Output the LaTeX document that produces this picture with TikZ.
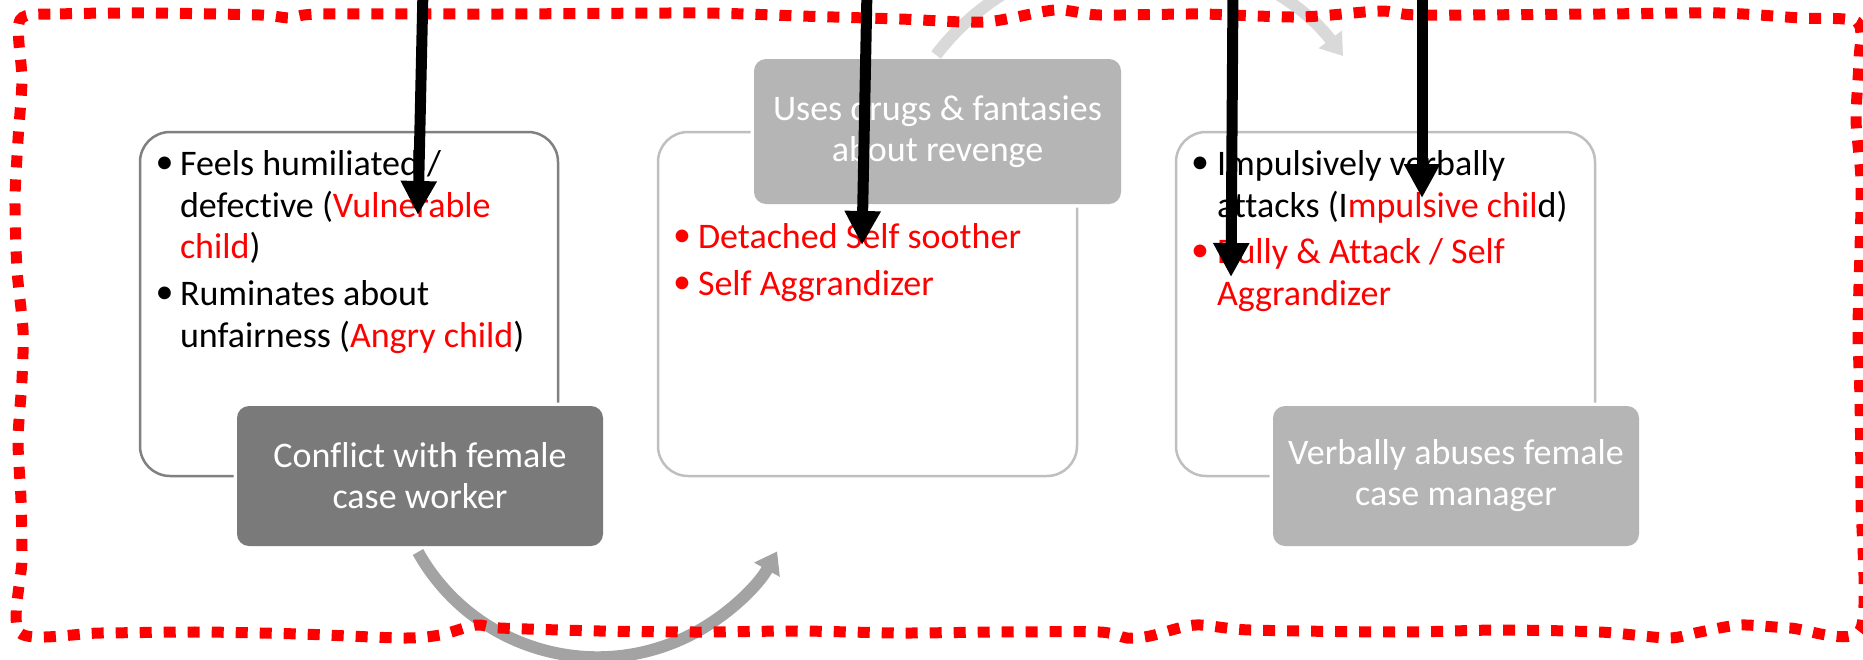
\documentclass[tikz,border=0pt]{standalone}
\usepackage{fontspec}
\setmainfont{Carlito}[Ligatures=NoCommon]
\usetikzlibrary{arrows.meta}

\definecolor{hired}{RGB}{255,0,0}
\definecolor{darkframe}{RGB}{128,128,128}
\definecolor{lightframe}{RGB}{191,191,191}
\definecolor{darktag}{RGB}{122,122,122}
\definecolor{lighttag}{RGB}{181,181,181}
\definecolor{arcdark}{RGB}{163,163,163}
\definecolor{arclight}{RGB}{217,217,217}

\newcommand\redtxt[1]{\textcolor{hired}{#1}}

\begin{document}
\begin{tikzpicture}[x=1pt,y=-1pt,
  panel/.style={draw=#1, line width=2.5pt, fill=white, rounded corners=30pt,
    inner sep=0pt, outer sep=0pt},
  tag/.style={fill=#1, rounded corners=12pt, preaction={draw=white, line width=7pt},
    text=white, align=center, inner sep=0pt, outer sep=0pt,
    font=\fontsize{36}{41}\selectfont},
  txtline/.style={anchor=base west, inner sep=0pt, outer sep=0pt,
    font=\fontsize{36}{42}\selectfont},
  bulletmark/.style={anchor=center, inner sep=0pt, outer sep=0pt,
    font=\fontsize{36}{42}\selectfont},
  cyclearrow/.style={line width=12pt, draw=#1, -{Triangle[width=28pt,length=21pt]}},
  pointer/.style={line width=11pt, draw=black, -{Triangle[width=34pt,length=34pt]}},
  redframe/.style={draw=hired, line width=11pt, dash pattern=on 12pt off 12pt}
]
\useasboundingbox (0,0) rectangle (1863,659);

% three stage panels
\node[panel=darkframe, minimum width=418pt, minimum height=344pt] (p1) at (349,304) {};
\node[panel=lightframe, minimum width=419pt, minimum height=344pt] (p2) at (867.5,304) {};
\node[panel=lightframe, minimum width=419pt, minimum height=344pt] (p3) at (1385.5,304) {};

% stage titles
\node[tag=darktag, minimum width=366pt, minimum height=140pt] (t1) at (420,476)
  {Conflict with female\\case worker};
\node[tag=lighttag, minimum width=367pt, minimum height=145pt] (t2) at (937.5,131.5)
  {Uses drugs \& fantasies\\about revenge};
\node[tag=lighttag, minimum width=366pt, minimum height=140pt] (t3) at (1456,476)
  {Verbally abuses female\\case manager};

% panel 1 bullets
\node[bulletmark] (p1b1) at (164.5,165) {•};
\node[txtline] (p1l1) at (180,175) {Feels humiliated /};
\node[txtline] (p1l2) at (180,217) {defective (\redtxt{Vulnerable}};
\node[txtline] (p1l3) at (180,258) {\redtxt{child})};
\node[bulletmark] (p1b2) at (164.5,295) {•};
\node[txtline] (p1l4) at (180,305) {Ruminates about};
\node[txtline] (p1l5) at (180,347) {unfairness (\redtxt{Angry child})};

% panel 2 bullets
\node[bulletmark, text=hired] (p2b1) at (682,238) {•};
\node[txtline, text=hired] (p2l1) at (698,248) {Detached Self soother};
\node[bulletmark, text=hired] (p2b2) at (682,285) {•};
\node[txtline, text=hired] (p2l2) at (698,295) {Self Aggrandizer};

% panel 3 bullets
\node[bulletmark] (p3b1) at (1200,165) {•};
\node[txtline] (p3l1) at (1217,175) {Impulsively verbally};
\node[txtline] (p3l2) at (1217,217) {attacks (I\redtxt{mpulsive chil}d)};
\node[bulletmark, text=hired] (p3b2) at (1200,253) {•};
\node[txtline, text=hired] (p3l3) at (1217,263) {Bully \& Attack / Self};
\node[txtline, text=hired] (p3l4) at (1217,305) {Aggrandizer};

% cycle arrows between stages
\coordinate (c1s) at (418,552);
\draw[cyclearrow=arcdark] (c1s) arc[start angle=150.8, end angle=29, radius=205.5];
\coordinate (c2s) at (936,55);
\draw[cyclearrow=arclight] (c2s) arc[start angle=-142.5, end angle=-37.2, radius=256];

% red dotted frame
\draw[redframe] plot[smooth cycle, tension=0.45] coordinates {
  (20,20) (60,14) (150,13) (260,15) (290,18) (320,14) (500,14) (700,13)
  (800,16) (900,19) (985,22) (1055,10) (1100,15) (1200,14) (1300,17)
  (1380,11) (1420,15) (1600,14) (1720,13) (1800,18) (1857,22)
  (1859,60) (1856,120) (1861,180) (1860,250) (1858,330) (1860,400)
  (1861,500) (1860,630)
  (1790,628) (1740,625) (1700,632) (1668,638) (1600,632) (1500,630)
  (1400,632) (1250,630) (1195,625) (1150,636) (1127,638) (1100,632)
  (1000,632) (900,633) (800,631) (700,632) (600,631) (500,628) (476,625)
  (440,635) (402,638) (300,634) (200,632) (100,633) (20,633)
  (22,560) (21,500) (18,440) (22,380) (23,330) (17,270) (15,200)
  (18,140) (22,80)
};

% black pointers
\coordinate (a1s) at (423,-10); \coordinate (a1e) at (418,215);
\coordinate (a2s) at (867,-10); \coordinate (a2e) at (862,245);
\coordinate (a3s) at (1233,-10); \coordinate (a3e) at (1231,277);
\coordinate (a4s) at (1422,-10); \coordinate (a4e) at (1422,198);
\draw[pointer] (a1s) -- (a1e);
\draw[pointer] (a2s) -- (a2e);
\draw[pointer] (a3s) -- (a3e);
\draw[pointer] (a4s) -- (a4e);
\end{tikzpicture}
\end{document}
